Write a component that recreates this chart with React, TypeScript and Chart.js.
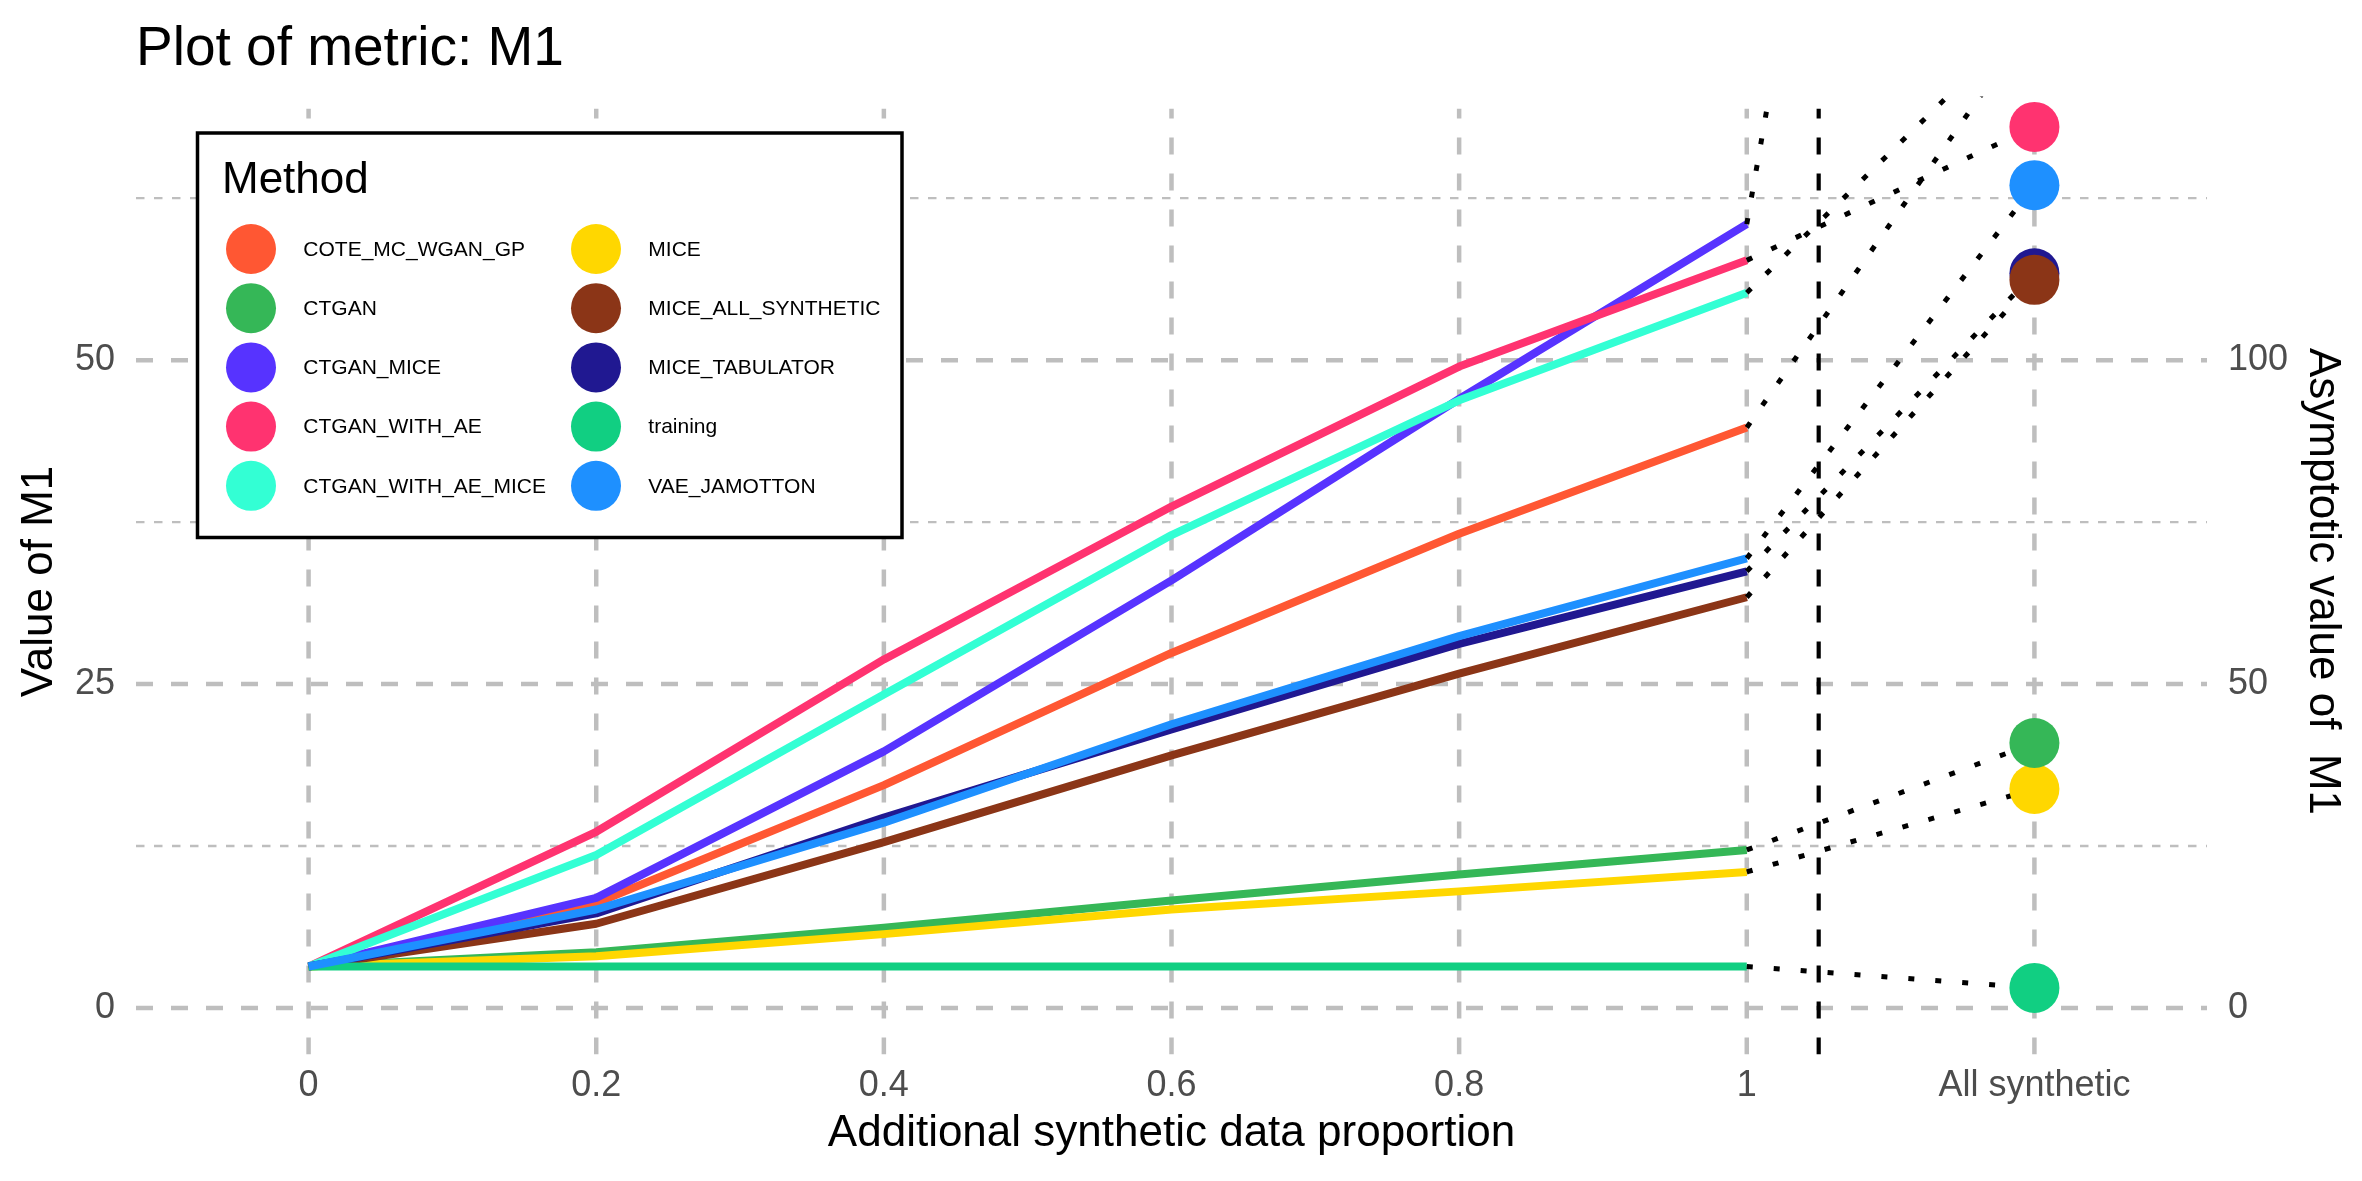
import React, { useEffect, useRef } from 'react';
import { Chart, registerables } from 'chart.js';

Chart.register(...registerables);

// ---------- data ----------
const CHART_TITLE = 'Plot of metric: M1';
const X_AXIS_TITLE = 'Additional synthetic data proportion';
const Y_AXIS_TITLE = 'Value of M1';
const Y2_AXIS_TITLE = 'Asymptotic value of  M1';
const LEGEND_TITLE = 'Method';

const X_TICK_LABELS = ['0', '0.2', '0.4', '0.6', '0.8', '1', 'All synthetic'];
const ALL_SYNTHETIC_INDEX = 6;
const LAST_PROPORTION_INDEX = 5;
const VLINE_X = 5.25;

const Y_TICKS = [0, 25, 50];
const Y_MINOR_TICKS = [12.5, 37.5, 62.5];
const Y2_TICKS = [0, 50, 100];
const SEC_AXIS_FACTOR = 2;
const X_RANGE = [-0.6, 6.6];
const Y_RANGE = [-3.59, 69.42];

const METHODS = [
  'COTE_MC_WGAN_GP',
  'CTGAN',
  'CTGAN_MICE',
  'CTGAN_WITH_AE',
  'CTGAN_WITH_AE_MICE',
  'MICE',
  'MICE_ALL_SYNTHETIC',
  'MICE_TABULATOR',
  'training',
  'VAE_JAMOTTON',
];

const COLORS = [
  '#FF5733',
  '#35B757',
  '#5733FF',
  '#FF3370',
  '#33FFD4',
  '#FFD700',
  '#8B3517',
  '#201891',
  '#11CF82',
  '#1E90FF',
];

const COTE_MC_WGAN_GP_VALUES = [3.2, 8.1, 17.2, 27.4, 36.6, 44.8];
const CTGAN_VALUES = [3.2, 4.3, 6.2, 8.3, 10.3, 12.2];
const CTGAN_MICE_VALUES = [3.2, 8.5, 19.8, 33.0, 47.0, 60.5];
const CTGAN_WITH_AE_VALUES = [3.2, 13.6, 26.9, 38.7, 49.5, 57.7];
const CTGAN_WITH_AE_MICE_VALUES = [3.2, 11.8, 24.2, 36.5, 46.9, 55.2];
const MICE_VALUES = [3.2, 4.0, 5.7, 7.6, 9.0, 10.5];
const MICE_ALL_SYNTHETIC_VALUES = [3.2, 6.5, 12.8, 19.5, 25.8, 31.7];
const MICE_TABULATOR_VALUES = [3.2, 7.3, 14.7, 21.5, 28.1, 33.7];
const TRAINING_VALUES = [3.2, 3.2, 3.2, 3.2, 3.2, 3.2];
const VAE_JAMOTTON_VALUES = [3.2, 7.6, 14.3, 21.9, 28.7, 34.7];

// asymptotic values (right axis units)
const ASYMPTOTIC_VALUES = [152.6, 40.9, 375, 136, 153.8, 33.8, 112.4, 113.4, 3.1, 127];

const SERIES = [
  COTE_MC_WGAN_GP_VALUES,
  CTGAN_VALUES,
  CTGAN_MICE_VALUES,
  CTGAN_WITH_AE_VALUES,
  CTGAN_WITH_AE_MICE_VALUES,
  MICE_VALUES,
  MICE_ALL_SYNTHETIC_VALUES,
  MICE_TABULATOR_VALUES,
  TRAINING_VALUES,
  VAE_JAMOTTON_VALUES,
];

// ---------- styles ----------
const FONT = '"Liberation Sans", Arial, Helvetica, sans-serif';
const GRID_COLOR = 'rgb(190,190,190)';
const TICK_COLOR = '#4D4D4D';

const gridPlugin = {
  id: 'ggGrid',
  beforeDatasetsDraw(chart: any) {
    const { ctx, chartArea: a, scales } = chart;
    const xs = scales.x;
    const ys = scales.y;
    const line = (x1: number, y1: number, x2: number, y2: number) => {
      ctx.beginPath();
      ctx.moveTo(x1, y1);
      ctx.lineTo(x2, y2);
      ctx.stroke();
    };
    ctx.save();
    ctx.beginPath();
    ctx.rect(a.left, a.top, a.right - a.left, a.bottom - a.top);
    ctx.clip();
    ctx.lineCap = 'butt';
    ctx.strokeStyle = GRID_COLOR;
    // minor horizontal
    ctx.lineWidth = 2.3;
    ctx.setLineDash([8.5, 9.5]);
    Y_MINOR_TICKS.forEach((v) => {
      const py = ys.getPixelForValue(v);
      line(a.left, py, a.right, py);
    });
    // major horizontal
    ctx.lineWidth = 4.5;
    ctx.setLineDash([17, 18]);
    Y_TICKS.forEach((v) => {
      const py = ys.getPixelForValue(v);
      line(a.left, py, a.right, py);
    });
    // major vertical (drawn from bottom up)
    ctx.setLineDash([17, 19]);
    X_TICK_LABELS.forEach((_, i) => {
      const px = xs.getPixelForValue(i);
      line(px, a.bottom, px, a.top);
    });
    // black dashed separator
    ctx.strokeStyle = '#000';
    ctx.lineWidth = 4.2;
    ctx.setLineDash([17, 19]);
    const vx = xs.getPixelForValue(VLINE_X);
    line(vx, a.bottom, vx, a.top);
    ctx.restore();
  },
};

const legendPlugin = {
  id: 'ggLegend',
  afterDatasetsDraw(chart: any) {
    const { ctx, chartArea: a } = chart;
    const bx = a.left + 61.5;
    const by = a.top + 24.5;
    const bw = 704.5;
    const bh = 404.5;
    ctx.save();
    ctx.setLineDash([]);
    ctx.fillStyle = '#ffffff';
    ctx.fillRect(bx, by, bw, bh);
    ctx.lineWidth = 3.5;
    ctx.strokeStyle = '#000';
    ctx.strokeRect(bx, by, bw, bh);
    ctx.fillStyle = '#000';
    ctx.font = `44px ${FONT}`;
    ctx.textAlign = 'left';
    ctx.textBaseline = 'alphabetic';
    ctx.fillText(LEGEND_TITLE, bx + 24.5, by + 59.7);
    const rows = Math.ceil(METHODS.length / 2);
    METHODS.forEach((m, i) => {
      const col = Math.floor(i / rows);
      const row = i % rows;
      const cx = bx + 53.5 + col * 345;
      const cy = by + 116 + row * 59.2;
      ctx.beginPath();
      ctx.arc(cx, cy, 25, 0, Math.PI * 2);
      ctx.fillStyle = COLORS[i];
      ctx.fill();
      ctx.fillStyle = '#000';
      ctx.font = `21px ${FONT}`;
      ctx.textBaseline = 'middle';
      ctx.fillText(m, cx + 52.3, cy + 1);
    });
    ctx.restore();
  },
};

export default function App() {
  const canvasRef = useRef<HTMLCanvasElement | null>(null);

  useEffect(() => {
    if (!canvasRef.current) return;
    Chart.defaults.font.family = FONT;

    const datasets: any[] = [];
    METHODS.forEach((m, i) => {
      datasets.push({
        type: 'line',
        label: m,
        data: SERIES[i].map((v, j) => ({ x: j, y: v })),
        borderColor: COLORS[i],
        backgroundColor: COLORS[i],
        borderWidth: 8,
        borderCapStyle: 'butt',
        borderJoinStyle: 'round',
        pointRadius: 0,
        fill: false,
        tension: 0,
        yAxisID: 'y',
        order: 100 - i,
      });
    });
    METHODS.forEach((m, i) => {
      datasets.push({
        type: 'line',
        label: m + ' (to asymptote)',
        data: [
          { x: LAST_PROPORTION_INDEX, y: SERIES[i][LAST_PROPORTION_INDEX] },
          { x: ALL_SYNTHETIC_INDEX, y: ASYMPTOTIC_VALUES[i] / SEC_AXIS_FACTOR },
        ],
        borderColor: '#000',
        borderWidth: 5,
        borderDash: [6, 21],
        borderCapStyle: 'butt',
        pointRadius: 0,
        fill: false,
        tension: 0,
        yAxisID: 'y',
        clip: { left: 0, top: 12, right: 0, bottom: 0 },
        order: 20 + i,
      });
    });
    METHODS.forEach((m, i) => {
      datasets.push({
        type: 'line',
        label: m + ' (asymptote)',
        data: [{ x: ALL_SYNTHETIC_INDEX, y: ASYMPTOTIC_VALUES[i] }],
        showLine: false,
        pointRadius: 25,
        pointBackgroundColor: COLORS[i],
        pointBorderWidth: 0,
        borderColor: COLORS[i],
        yAxisID: 'y2',
        clip: { left: 0, top: 20, right: 0, bottom: 0 },
        order: i,
      });
    });

    const chart = new Chart(canvasRef.current, {
      type: 'line',
      data: { datasets },
      options: {
        responsive: false,
        maintainAspectRatio: false,
        animation: false,
        layout: { padding: 0 },
        plugins: {
          legend: { display: false },
          tooltip: { enabled: false },
          title: {
            display: true,
            text: CHART_TITLE,
            align: 'start',
            fullSize: false,
            color: '#000',
            font: { family: FONT, size: 55, weight: 'normal', lineHeight: 1.2 },
            padding: { top: 17, bottom: 25.5 },
          },
        },
        scales: {
          x: {
            type: 'linear',
            min: X_RANGE[0],
            max: X_RANGE[1],
            grid: { display: false, drawTicks: false },
            border: { display: false },
            afterBuildTicks: (s: any) => {
              s.ticks = X_TICK_LABELS.map((_, i) => ({ value: i }));
            },
            ticks: {
              callback: (v: any) => X_TICK_LABELS[v as number],
              color: TICK_COLOR,
              font: { family: FONT, size: 36 },
              padding: 10,
              maxRotation: 0,
              autoSkip: false,
            },
            title: {
              display: true,
              text: X_AXIS_TITLE,
              color: '#000',
              font: { family: FONT, size: 44, lineHeight: 1.2 },
              padding: { top: 0, bottom: 21 },
            },
            afterFit: (s: any) => {
              s.height = 126.5;
            },
          },
          y: {
            type: 'linear',
            position: 'left',
            min: Y_RANGE[0],
            max: Y_RANGE[1],
            grid: { display: false, drawTicks: false },
            border: { display: false },
            afterBuildTicks: (s: any) => {
              s.ticks = Y_TICKS.map((v) => ({ value: v }));
            },
            ticks: {
              color: TICK_COLOR,
              font: { family: FONT, size: 36 },
              padding: 21,
            },
            title: {
              display: true,
              text: Y_AXIS_TITLE,
              color: '#000',
              font: { family: FONT, size: 44, lineHeight: 1.2 },
              padding: { top: 13.6, bottom: 0 },
            },
            afterFit: (s: any) => {
              s.width = 136;
            },
          },
          y2: {
            type: 'linear',
            position: 'right',
            min: Y_RANGE[0] * SEC_AXIS_FACTOR,
            max: Y_RANGE[1] * SEC_AXIS_FACTOR,
            grid: { display: false, drawTicks: false },
            border: { display: false },
            afterBuildTicks: (s: any) => {
              s.ticks = Y2_TICKS.map((v) => ({ value: v }));
            },
            ticks: {
              color: TICK_COLOR,
              font: { family: FONT, size: 36 },
              padding: 21,
            },
            title: {
              display: true,
              text: Y2_AXIS_TITLE,
              color: '#000',
              font: { family: FONT, size: 44, lineHeight: 1.2 },
              padding: { top: 13.6, bottom: 0 },
            },
            afterFit: (s: any) => {
              s.width = 155;
            },
          },
        },
      },
      plugins: [gridPlugin, legendPlugin],
    } as any);

    return () => {
      chart.destroy();
    };
  }, []);

  return (
    <div style={{ position: 'absolute', left: 0, top: 0, width: 2362, height: 1181, background: '#fff' }}>
      <canvas ref={canvasRef} width={2362} height={1181} style={{ display: 'block', width: 2362, height: 1181 }} />
    </div>
  );
}
